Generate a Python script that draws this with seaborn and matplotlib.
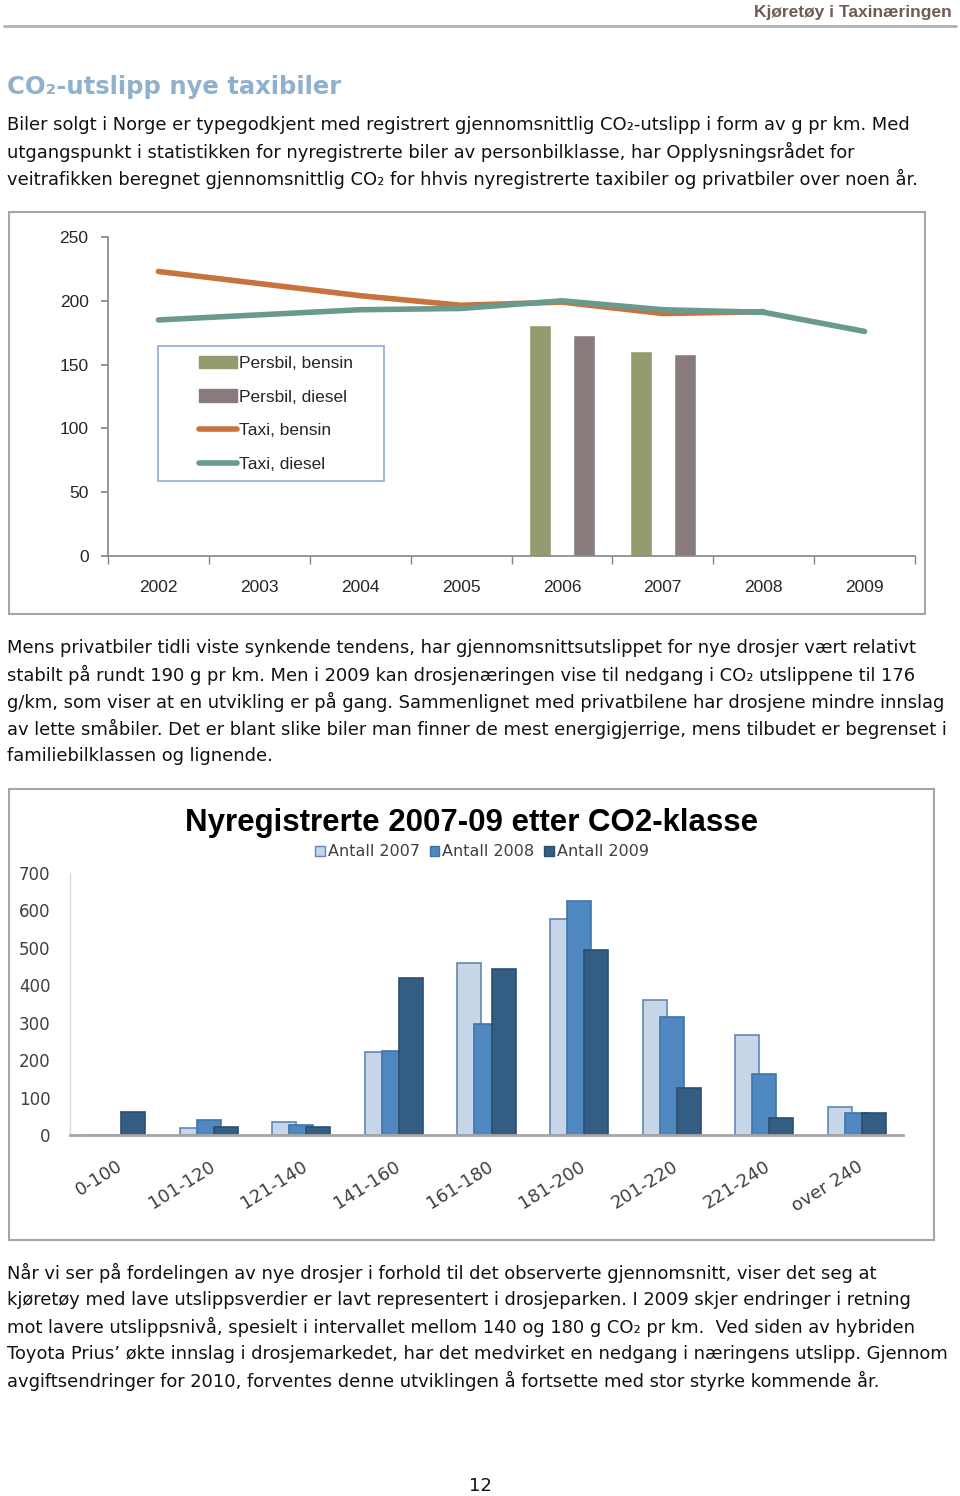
import matplotlib
matplotlib.use("Agg")
import matplotlib.pyplot as plt
from matplotlib.patches import Rectangle, Patch
from matplotlib.lines import Line2D
import seaborn as sns
import pandas as pd
import numpy as np

# --- chart 1: average CO2 per new car (g/km)
years = [2002, 2003, 2004, 2005, 2006, 2007, 2008, 2009]
persbil_bensin = [np.nan, np.nan, np.nan, np.nan, 181, 161, np.nan, np.nan]
persbil_diesel = [np.nan, np.nan, np.nan, np.nan, 173, 158, np.nan, np.nan]
taxi_bensin = [223, 213.5, 204, 196.5, 199, 190, 191.5, np.nan]
taxi_diesel = [185, 189, 193, 194, 200, 193, 191, 176]
series1 = ["Persbil, bensin", "Persbil, diesel", "Taxi, bensin", "Taxi, diesel"]

# --- chart 2: new registrations by CO2 class
klasser = ["0-100", "101-120", "121-140", "141-160", "161-180",
           "181-200", "201-220", "221-240", "over 240"]
antall_2007 = [0, 18, 35, 221, 460, 578, 362, 266, 75]
antall_2008 = [0, 39, 26, 225, 296, 625, 314, 163, 58]
antall_2009 = [62, 22, 22, 420, 443, 493, 126, 46, 58]
series2 = ["Antall 2007", "Antall 2008", "Antall 2009"]

header = "Kjøretøy i Taxinæringen"
title = "CO₂-utslipp nye taxibiler"
para1 = [
    "Biler solgt i Norge er typegodkjent med registrert gjennomsnittlig CO₂-utslipp i form av g pr km. Med",
    "utgangspunkt i statistikken for nyregistrerte biler av personbilklasse, har Opplysningsrådet for",
    "veitrafikken beregnet gjennomsnittlig CO₂ for hhvis nyregistrerte taxibiler og privatbiler over noen år.",
]
para2 = [
    "Mens privatbiler tidli viste synkende tendens, har gjennomsnittsutslippet for nye drosjer vært relativt",
    "stabilt på rundt 190 g pr km. Men i 2009 kan drosjenæringen vise til nedgang i CO₂ utslippene til 176",
    "g/km, som viser at en utvikling er på gang. Sammenlignet med privatbilene har drosjene mindre innslag",
    "av lette småbiler. Det er blant slike biler man finner de mest energigjerrige, mens tilbudet er begrenset i",
    "familiebilklassen og lignende.",
]
para3 = [
    "Når vi ser på fordelingen av nye drosjer i forhold til det observerte gjennomsnitt, viser det seg at",
    "kjøretøy med lave utslippsverdier er lavt representert i drosjeparken. I 2009 skjer endringer i retning",
    "mot lavere utslippsnivå, spesielt i intervallet mellom 140 og 180 g CO₂ pr km.  Ved siden av hybriden",
    "Toyota Prius’ økte innslag i drosjemarkedet, har det medvirket en nedgang i næringens utslipp. Gjennom",
    "avgiftsendringer for 2010, forventes denne utviklingen å fortsette med stor styrke kommende år.",
]

sns.set_theme(style="ticks")
plt.rcParams["font.family"] = ["DejaVu Sans"]
narrow = ["Liberation Sans Narrow", "Liberation Sans", "DejaVu Sans"]

W, H = 960, 1496
fig = plt.figure(figsize=(W / 100, H / 100), dpi=100)


def fx(px):
    return px / W


def fy(py):
    return 1 - py / H


def box(l, t, r, b):
    return [l / W, 1 - b / H, (r - l) / W, (b - t) / H]


def frame(l, t, r, b, color="#a6a6a6", lw=1.5):
    fig.add_artist(Rectangle((fx(l), fy(b)), (r - l) / W, (b - t) / H,
                             transform=fig.transFigure, fill=False,
                             edgecolor=color, linewidth=lw))


# page text
fig.text(fx(952), fy(13), header, ha="right", va="center", fontsize=12.5,
         fontweight="bold", color="#6e5c55", family=narrow)
fig.add_artist(Line2D([fx(4), fx(956)], [fy(26), fy(26)], transform=fig.transFigure,
                      color="#a9b3bd", linewidth=2))
fig.text(fx(7), fy(87), title, ha="left", va="center", fontsize=17.5,
         fontweight="bold", color="#8fb1cd")

body = dict(ha="left", va="center", fontsize=12.85, color="#111111")
for i, line in enumerate(para1):
    fig.text(fx(7), fy(125 + 27 * i), line, **body)
for i, line in enumerate(para2):
    fig.text(fx(7), fy(648 + 27 * i), line, **body)
for i, line in enumerate(para3):
    fig.text(fx(7), fy(1273 + 27 * i), line, **body)
fig.text(fx(480), fy(1486), "12", ha="center", va="center", fontsize=13, color="#111111")

## Chart 1
frame(9, 212, 925, 614)
ax1 = fig.add_axes(box(108, 237, 915, 556))
c_olive, c_mauve, c_orange, c_teal = "#939b6f", "#877c7b", "#c8733e", "#6a9a8f"

bar_df = pd.DataFrame({
    "year": years * 2,
    "type": [series1[0]] * len(years) + [series1[1]] * len(years),
    "value": persbil_bensin + persbil_diesel,
}).dropna()
sns.barplot(data=bar_df, x="year", y="value", hue="type", native_scale=True,
            width=0.88, gap=0.5, palette=[c_olive, c_mauve], saturation=1,
            errorbar=None, legend=False, ax=ax1)

line_df = pd.DataFrame({"year": years, series1[2]: taxi_bensin, series1[3]: taxi_diesel})
line_df = line_df.melt(id_vars="year", var_name="serie", value_name="value").dropna()
sns.lineplot(data=line_df, x="year", y="value", hue="serie",
             palette=[c_orange, c_teal], linewidth=4, legend=False, ax=ax1)

ax1.set_xlim(years[0] - 0.5, years[-1] + 0.5)
ax1.set_ylim(0, 250)
ax1.set_xticks(years)
ax1.set_xticks(np.arange(years[0] - 0.5, years[-1] + 1, 1), minor=True)
ax1.set_yticks(range(0, 251, 50))
ax1.tick_params(axis="x", which="major", length=0, pad=17, labelsize=12.5, labelcolor="#262626")
ax1.tick_params(axis="x", which="minor", length=6, color="#868686")
ax1.tick_params(axis="y", length=5, color="#868686", pad=9, labelsize=12.5, labelcolor="#262626")
for lab in ax1.get_xticklabels() + ax1.get_yticklabels():
    lab.set_family(narrow)
ax1.set_xlabel("")
ax1.set_ylabel("")
sns.despine(ax=ax1)
for s in ["left", "bottom"]:
    ax1.spines[s].set_color("#868686")
    ax1.spines[s].set_linewidth(1.2)

frame(158, 346, 384, 481, color="#95b3d7", lw=1.3)
handles = [Patch(color=c_olive), Patch(color=c_mauve),
           Line2D([], [], color=c_orange, linewidth=4),
           Line2D([], [], color=c_teal, linewidth=4)]
leg = ax1.legend(handles, series1, loc="upper left", bbox_to_anchor=(fx(183), fy(340)),
                 bbox_transform=fig.transFigure, frameon=False, labelspacing=1.07,
                 handlelength=2.2, handletextpad=0.15, prop={"family": narrow, "size": 12.5})

## Chart 2
frame(9, 789, 934, 1240)
ax2 = fig.add_axes(box(70, 873, 903, 1135))
c_light, c_mid, c_dark = "#c6d6e8", "#4f88c0", "#345d83"
edges = ["#5f87b5", "#3f74a8", "#2b4e70"]

df2 = pd.DataFrame({
    "klasse": klasser * 3,
    "serie": [s for s in series2 for _ in klasser],
    "antall": antall_2007 + antall_2008 + antall_2009,
})
sns.barplot(data=df2, x="klasse", y="antall", hue="serie", order=klasser,
            width=0.553, palette=[c_light, c_mid, c_dark], saturation=1,
            errorbar=None, legend=False, ax=ax2)

# excel-style overlapping bars
bar_w = 0.26
for cont, ec in zip(ax2.containers, edges):
    for p in cont:
        c = p.get_x() + p.get_width() / 2
        p.set_width(bar_w)
        p.set_x(c - bar_w / 2)
        p.set_edgecolor(ec)
        p.set_linewidth(1.2)

ax2.set_xlim(-0.5, len(klasser) - 0.5)
ax2.set_ylim(0, 700)
ax2.set_yticks(range(0, 701, 100))
ax2.tick_params(axis="y", length=0, pad=14, labelsize=12, labelcolor="#404040")
ax2.tick_params(axis="x", length=0, pad=16, labelsize=13, labelcolor="#404040")
for lab in ax2.get_xticklabels():
    lab.set_rotation(32)
    lab.set_ha("right")
    lab.set_rotation_mode("anchor")
ax2.set_xlabel("")
ax2.set_ylabel("")
sns.despine(ax=ax2)
ax2.spines["left"].set_color("#d9d9d9")
ax2.spines["left"].set_linewidth(1)
ax2.spines["bottom"].set_color("#a6a6a6")
ax2.spines["bottom"].set_linewidth(2)

fig.text(fx(472), fy(823), "Nyregistrerte 2007-09 etter CO2-klasse", ha="center", va="center",
         fontsize=22.5, fontweight="bold", color="#000000", family=narrow)
handles2 = [Patch(facecolor=c, edgecolor=e, linewidth=1) for c, e in zip([c_light, c_mid, c_dark], edges)]
ax2.legend(handles2, series2, loc="center", bbox_to_anchor=(fx(482), fy(852)),
           bbox_transform=fig.transFigure, ncol=3, frameon=False, handlelength=0.6,
           handleheight=0.6, handletextpad=0.2, columnspacing=0.6, fontsize=11.5,
           labelcolor="#404040")

plt.savefig("out.png", dpi=100)
plt.close()
